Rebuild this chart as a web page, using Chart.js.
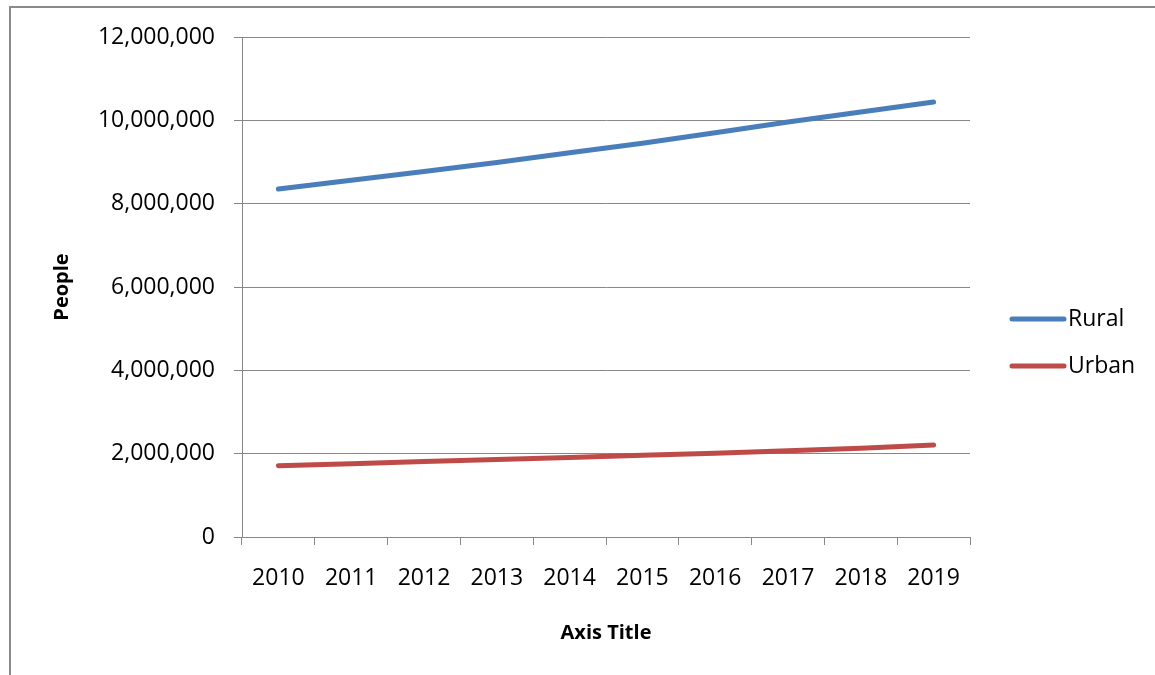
<!DOCTYPE html>
<html>
<head>
<meta charset="utf-8">
<script src="https://cdn.jsdelivr.net/npm/chart.js@4.4.1/dist/chart.umd.min.js"></script>
<style>
  html, body { margin: 0; padding: 0; background: #fff; }
  #wrap { position: relative; width: 1155px; height: 675px; }
  #frame { position: absolute; left: 9px; top: 6px; right: -4px; bottom: -4px;
           border-left: 2px solid #8a8a8a; border-top: 2px solid #8a8a8a; pointer-events: none; }
</style>
</head>
<body>
<div id="wrap">
  <canvas id="js-chart-people" width="1155" height="675"></canvas>
  <div id="frame"></div>
</div>
<script>
// Data
const years = ['2010', '2011', '2012', '2013', '2014', '2015', '2016', '2017', '2018', '2019'];
const rural = [8350000, 8560000, 8770000, 8990000, 9220000, 9450000, 9700000, 9960000, 10200000, 10440000];
const urban = [1710000, 1760000, 1810000, 1860000, 1910000, 1960000, 2010000, 2070000, 2130000, 2210000];
const yTicks = [0, 2000000, 4000000, 6000000, 8000000, 10000000, 12000000];

const FONT = "'Open Sans', 'Liberation Sans', sans-serif";
const GRID = '#878787';

// Simple right hand legend, like the Excel one
const sideLegend = {
  id: 'sideLegend',
  afterDraw(chart) {
    const ctx = chart.ctx;
    const rows = [319, 366];
    ctx.save();
    chart.data.datasets.forEach((ds, i) => {
      const y = rows[i];
      ctx.strokeStyle = ds.borderColor;
      ctx.lineWidth = 5;
      ctx.lineCap = 'round';
      ctx.beginPath();
      ctx.moveTo(1012, y);
      ctx.lineTo(1064, y);
      ctx.stroke();
      ctx.fillStyle = '#000';
      ctx.font = '23px ' + FONT;
      ctx.textBaseline = 'middle';
      ctx.textAlign = 'left';
      ctx.fillText(ds.label, 1068, y);
    });
    ctx.restore();
  }
};

let chartCon = document.getElementById('js-chart-people');

new Chart(chartCon, {
  type: 'line',
  data: {
    labels: years,
    datasets: [
      { label: 'Rural', data: rural, borderColor: '#4a7ebb', backgroundColor: '#4a7ebb' },
      { label: 'Urban', data: urban, borderColor: '#be4b48', backgroundColor: '#be4b48' }
    ]
  },
  options: {
    responsive: false,
    animation: false,
    layout: { padding: { top: 37, right: 185, bottom: 0, left: 0 } },
    elements: {
      line: { borderWidth: 5, borderCapStyle: 'round', borderJoinStyle: 'round', tension: 0 },
      point: { radius: 0, hoverRadius: 0 }
    },
    plugins: {
      legend: { display: false },
      tooltip: { enabled: false }
    },
    scales: {
      x: {
        offset: true,
        grid: { offset: true, drawOnChartArea: false, drawTicks: true, tickLength: 8, color: GRID },
        border: { display: true, color: GRID, width: 1 },
        ticks: { color: '#000', font: { family: FONT, size: 23 }, padding: 20, maxRotation: 0 },
        title: { display: true, text: 'Axis Title', color: '#000',
                 font: { family: FONT, size: 20, weight: 'bold' }, padding: { top: 0, bottom: 30 } },
        afterFit(scale) { scale.height = 138; }
      },
      y: {
        min: 0,
        max: 12000000,
        afterBuildTicks(scale) { scale.ticks = yTicks.map(v => ({ value: v })); },
        grid: { drawTicks: true, tickLength: 8, color: GRID, lineWidth: 1 },
        border: { display: true, color: GRID, width: 1 },
        ticks: {
          color: '#000', font: { family: FONT, size: 23 }, padding: 19,
          callback: v => v.toLocaleString('en-US')
        },
        title: { display: true, text: 'People', color: '#000',
                 font: { family: FONT, size: 20, weight: 'bold' }, padding: { top: 50, bottom: 0 } },
        afterFit(scale) { scale.width = 242; }
      }
    }
  },
  plugins: [sideLegend]
});
</script>
</body>
</html>
